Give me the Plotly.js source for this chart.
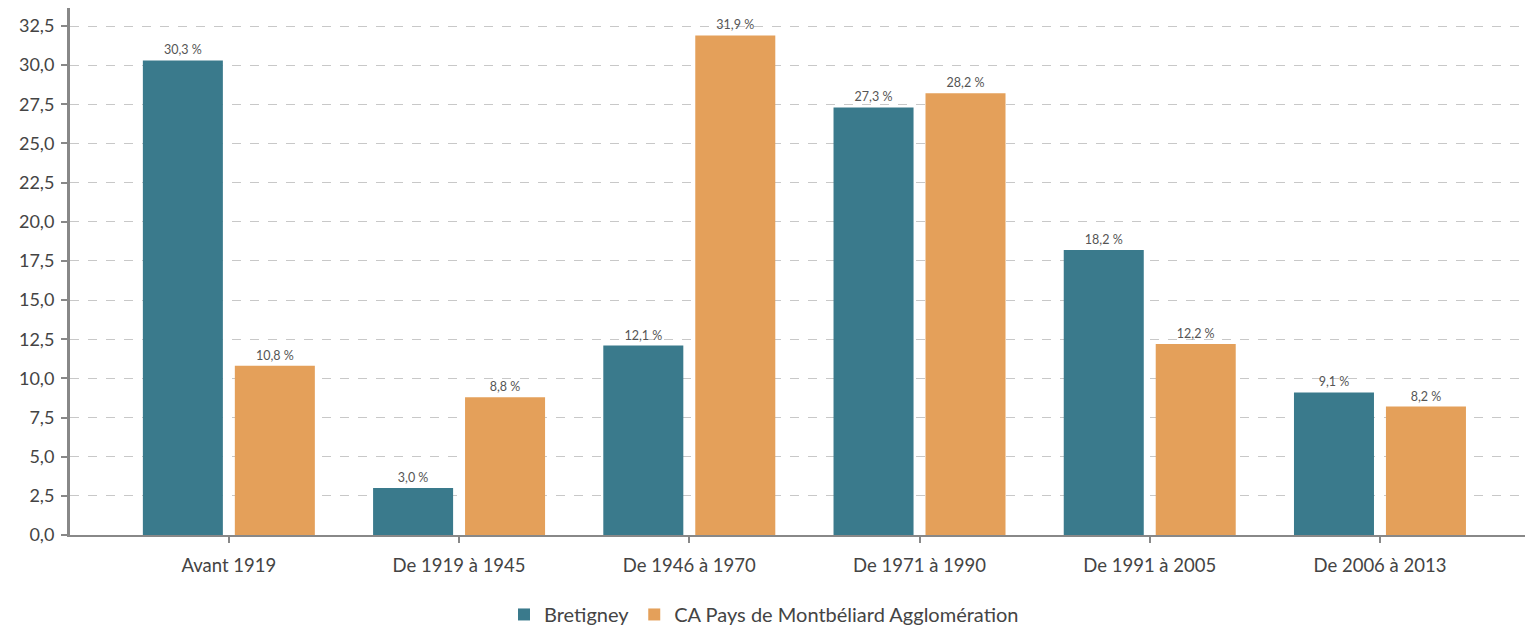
<!DOCTYPE html>
<html><head><meta charset="utf-8">
<script src="https://cdn.plot.ly/plotly-3.0.1.min.js"></script>
<style>html,body{margin:0;padding:0;background:#fff}#chart{width:1528px;height:627px}</style>
</head><body><div id="chart"></div>
<script>
const categories = ["Avant 1919", "De 1919 à 1945", "De 1946 à 1970", "De 1971 à 1990", "De 1991 à 2005", "De 2006 à 2013"];
const bretigney = [30.3, 3.0, 12.1, 27.3, 18.2, 9.1];
const caPays = [10.8, 8.8, 31.9, 28.2, 12.2, 8.2];
const seriesNames = ["Bretigney", "CA Pays de Montbéliard Agglomération"];
const yTicks = [0, 2.5, 5, 7.5, 10, 12.5, 15, 17.5, 20, 22.5, 25, 27.5, 30, 32.5];

const font = "Lato, 'Open Sans', sans-serif";
const mk = (y, name, color) => ({
  type: "bar", x: categories, y: y, name: name,
  marker: {color: color},
  texttemplate: "%{y:.1f} %", textposition: "outside", cliponaxis: false,
  textfont: {family: font, size: 12.5, color: "#555"},
  hoverinfo: "x+y"
});
const data = [mk(bretigney, seriesNames[0], "#3a7a8c"), mk(caPays, seriesNames[1], "#e4a05a")];
const layout = {
  width: 1528, height: 627,
  margin: {l: 70, r: 3, t: 8, b: 92, autoexpand: false},
  separators: ", ",
  bargap: 0.201, bargroupgap: 0.13,
  paper_bgcolor: "#fff", plot_bgcolor: "#fff",
  font: {family: font, color: "#444"},
  xaxis: {
    type: "category", range: [-0.69, 5.63],
    showline: true, linecolor: "#888", linewidth: 2,
    ticks: "outside", ticklen: 6, tickcolor: "#888", tickwidth: 2,
    ticklabelstandoff: 7,
    tickfont: {family: font, size: 18.5, color: "#444"},
    showgrid: false, zeroline: false
  },
  yaxis: {
    range: [0, 33.65], tickvals: yTicks, tickformat: ".1f",
    showline: true, linecolor: "#888", linewidth: 3,
    ticks: "outside", ticklen: 6, tickcolor: "#888", tickwidth: 2,
    ticklabelstandoff: 3,
    tickfont: {family: font, size: 18, color: "#444"},
    showgrid: true, gridcolor: "#c8c8c8", griddash: "dash", gridwidth: 1,
    zeroline: false
  },
  legend: {
    orientation: "h", x: 0.5, xanchor: "center", xref: "container",
    y: 0.02, yanchor: "middle", yref: "container",
    font: {family: font, size: 20, color: "#444"}, itemwidth: 30
  },
  showlegend: true
};
Plotly.newPlot("chart", data, layout, {displayModeBar: false});
</script></body></html>
